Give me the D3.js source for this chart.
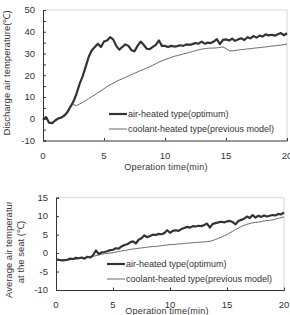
<!DOCTYPE html>
<html><head><meta charset="utf-8">
<script src="https://cdn.jsdelivr.net/npm/d3@7"></script>
<style>html,body{margin:0;padding:0;background:#fff;}svg{display:block;font-family:"Liberation Sans",Arial,sans-serif;}</style>
</head><body>
<svg id="c" width="290" height="315"></svg>
<script>
const time = [0,0.25,0.5,0.75,1,1.25,1.5,1.75,2,2.25,2.5,2.75,3,3.25,3.5,3.75,4,4.25,4.5,4.75,5,5.25,5.5,5.75,6,6.25,6.5,6.75,7,7.25,7.5,7.75,8,8.25,8.5,8.75,9,9.25,9.5,9.75,10,10.25,10.5,10.75,11,11.25,11.5,11.75,12,12.25,12.5,12.75,13,13.25,13.5,13.75,14,14.25,14.5,14.75,15,15.25,15.5,15.75,16,16.25,16.5,16.75,17,17.25,17.5,17.75,18,18.25,18.5,18.75,19,19.25,19.5,19.75,20];

const dischargeAir = [-0.5,0.8,-1.8,-2,-0.8,0.2,0.5,1.5,3,5.5,8,11.5,16,19.5,24,28.5,31.5,33,34.5,33,35.5,36,37.5,36.5,33.5,31.8,33,34.2,33.5,31.5,31,33.5,35.5,34,32.2,32,33,34,36,33.5,33.5,33,33.5,33.2,33.4,33.8,33.5,34.2,34,34.3,34.8,34.5,35.5,34.5,35,34.8,35.5,36.6,34.3,36.3,36.5,36,36.8,35.8,36.5,37,36.2,37.5,37,38,37.3,38.2,37.8,38.8,38.3,38.6,38.2,38.8,39.4,38.4,39.3];
const dischargeCoolant = [-0.5,0.5,-1.8,-2,-0.8,0,0.5,1.5,3.5,6,6.5,6,6.8,7.5,8.4,9.3,10.2,11,12,12.8,13.8,14.8,15.6,16.3,17.1,17.8,18.4,19,19.7,20.3,20.9,21.5,22.2,22.7,23.3,23.9,24.6,25.3,26.1,26.6,27.2,27.7,28.2,28.7,29,29.4,29.8,30.1,30.5,30.9,31.3,31.7,32,32.2,32.4,32.5,32.5,32.6,32.8,33,32.3,31.3,31.2,31.4,31.6,31.8,31.9,32.1,32.2,32.4,32.6,32.7,32.9,33,33.2,33.4,33.5,33.7,33.9,34.1,34.3];

const seatAir = [-1.7,-1.8,-2,-1.9,-1.8,-1.5,-1.6,-1.3,-1.4,-1.2,-1.5,-1.0,-1.2,-0.6,0.7,-0.3,0.2,0.3,0.5,0.8,0.9,1.3,1.2,1.8,2.2,2.4,2.9,3.2,2.6,3.6,4.0,4.8,4.3,4.6,5.0,4.9,5.2,5.1,5.4,6.2,5.5,6.0,6.2,6.0,6.5,6.8,7.1,6.9,7.3,7.2,7.4,7.3,7.6,8.0,6.9,7.9,8.1,8.3,8.5,8.3,8.6,8.7,8.4,7.8,8.7,9.0,9.3,9.9,9.5,10.3,9.6,10.1,9.8,10.2,9.9,10.1,10.3,10.2,10.6,10.5,11.0];
const seatCoolant = [-2.0,-2.0,-2.0,-1.9,-1.8,-1.8,-1.7,-1.6,-1.5,-1.4,-1.3,-1.2,-1.1,-0.9,-0.7,-0.5,-0.3,-0.2,-0.1,0.0,0.1,0.3,0.4,0.6,0.7,0.8,1.0,1.1,1.2,1.3,1.4,1.5,1.6,1.7,1.8,1.8,1.9,2.0,2.1,2.2,2.3,2.3,2.4,2.5,2.5,2.6,2.7,2.7,2.8,2.9,2.9,3.0,3.0,3.1,3.2,3.4,3.7,4.0,4.3,4.7,5.0,5.5,5.9,6.4,6.8,7.2,7.5,7.8,8.0,8.2,8.3,8.4,8.5,8.7,8.8,8.9,9.0,9.2,9.4,9.6,9.8];

const xTicks = [0,5,10,15,20];
const topYTicks = [-10,0,10,20,30,40,50];
const topYMinor = [-5,5,15,25,35,45];
const botYTicks = [-10,-5,0,5,10,15];
const legendLabels = ["air-heated type(optimum)","coolant-heated type(previous model)"];
const xTitle = "Operation time(min)";
const topYTitle = "Discharge air temperature(\u2103)";
const botYTitle = ["Average air temperature","at the seat (\u2103)"];

const svg = d3.select("#c");
const TXT = "#333";

function panel(o){
  const g = svg.append("g");
  const x = d3.scaleLinear().domain([0,20]).range([o.x0,o.x1]);
  const y = d3.scaleLinear().domain(o.ydom).range([o.y0,o.y1]);
  // frame top/right
  g.append("path").attr("d",`M${o.x0},${o.y1}H${o.x1}V${o.y0}`).attr("fill","none").attr("stroke","#d8d8d8").attr("stroke-width",1);
  // left axis
  const ya = d3.axisRight(y).tickValues(o.yticks.concat(o.yminor||[])).tickSize(3).tickFormat("");
  g.append("g").attr("transform",`translate(${o.x0},0)`).call(ya)
    .call(s=>{s.select(".domain").attr("stroke","#333");s.selectAll("line").attr("stroke","#333");});
  g.selectAll(".ylab").data(o.yticks).join("text").attr("x",o.x0-8).attr("y",d=>y(d)).attr("dy","0.35em")
    .attr("text-anchor","end").attr("font-size",9.5).attr("fill",TXT).text(d=>d);
  // bottom axis
  const xa = d3.axisTop(x).tickValues(xTicks.filter(d=>d>0&&d<20)).tickSize(2.5).tickFormat("");
  g.append("g").attr("transform",`translate(0,${o.y0})`).call(xa)
    .call(s=>{s.select(".domain").attr("stroke","#333");s.selectAll("line").attr("stroke","#333");});
  g.selectAll(".xlab").data(xTicks).join("text").attr("x",d=>x(d)).attr("y",o.xlabY)
    .attr("text-anchor","middle").attr("font-size",9.5).attr("fill",TXT).text(d=>d);
  g.append("text").attr("x",o.titleX).attr("y",o.titleY).attr("text-anchor","middle").attr("font-size",9)
    .attr("fill",TXT).attr("letter-spacing","0.2px").text(xTitle);
  const line = d3.line().x((d,i)=>x(time[i])).y(d=>y(d));
  g.append("path").datum(o.thin).attr("d",line).attr("fill","none").attr("stroke","#6a6a6a").attr("stroke-width",1);
  g.append("path").datum(o.thick).attr("d",line).attr("fill","none").attr("stroke","#333").attr("stroke-width",2.2).attr("stroke-linejoin","round");
  // legend
  const lg = g.append("g");
  [0,1].forEach(i=>{
    const ly = o.legY[i];
    lg.append("line").attr("x1",o.legX).attr("x2",o.legX+18).attr("y1",ly).attr("y2",ly)
      .attr("stroke",i?"#6a6a6a":"#333").attr("stroke-width",i?1:2.2);
    lg.append("text").attr("x",o.legX+19).attr("y",ly).attr("dy","0.35em").attr("font-size",9)
      .attr("fill",TXT).text(legendLabels[i]);
  });
  return {x,y};
}

panel({x0:43,x1:287,y0:140.5,y1:10,ydom:[-10,50],yticks:topYTicks,yminor:topYMinor,
  xlabY:158.5,titleX:166,titleY:170,thick:dischargeAir,thin:dischargeCoolant,legX:109,legY:[114,129]});
panel({x0:56,x1:284,y0:290,y1:197.7,ydom:[-10,15],yticks:botYTicks,yminor:[],
  xlabY:307.5,titleX:167,titleY:313.5,thick:seatAir,thin:seatCoolant,legX:107,legY:[264,279]});

// y titles
svg.append("text").attr("transform","translate(10,73) rotate(-90)").attr("text-anchor","middle")
  .attr("font-size",9.5).attr("fill",TXT).text(topYTitle);
svg.append("defs").append("clipPath").attr("id","clipy").append("rect").attr("x",0).attr("y",202).attr("width",40).attr("height",113);
const bt = svg.append("g").attr("clip-path","url(#clipy)");
bt.append("text").attr("transform","translate(12,298) rotate(-90)").attr("text-anchor","start")
  .attr("font-size",9.5).attr("fill",TXT).text(botYTitle[0]);
svg.append("text").attr("transform","translate(24,252) rotate(-90)").attr("text-anchor","middle")
  .attr("font-size",9.5).attr("fill",TXT).text(botYTitle[1]);
</script>
</body></html>
